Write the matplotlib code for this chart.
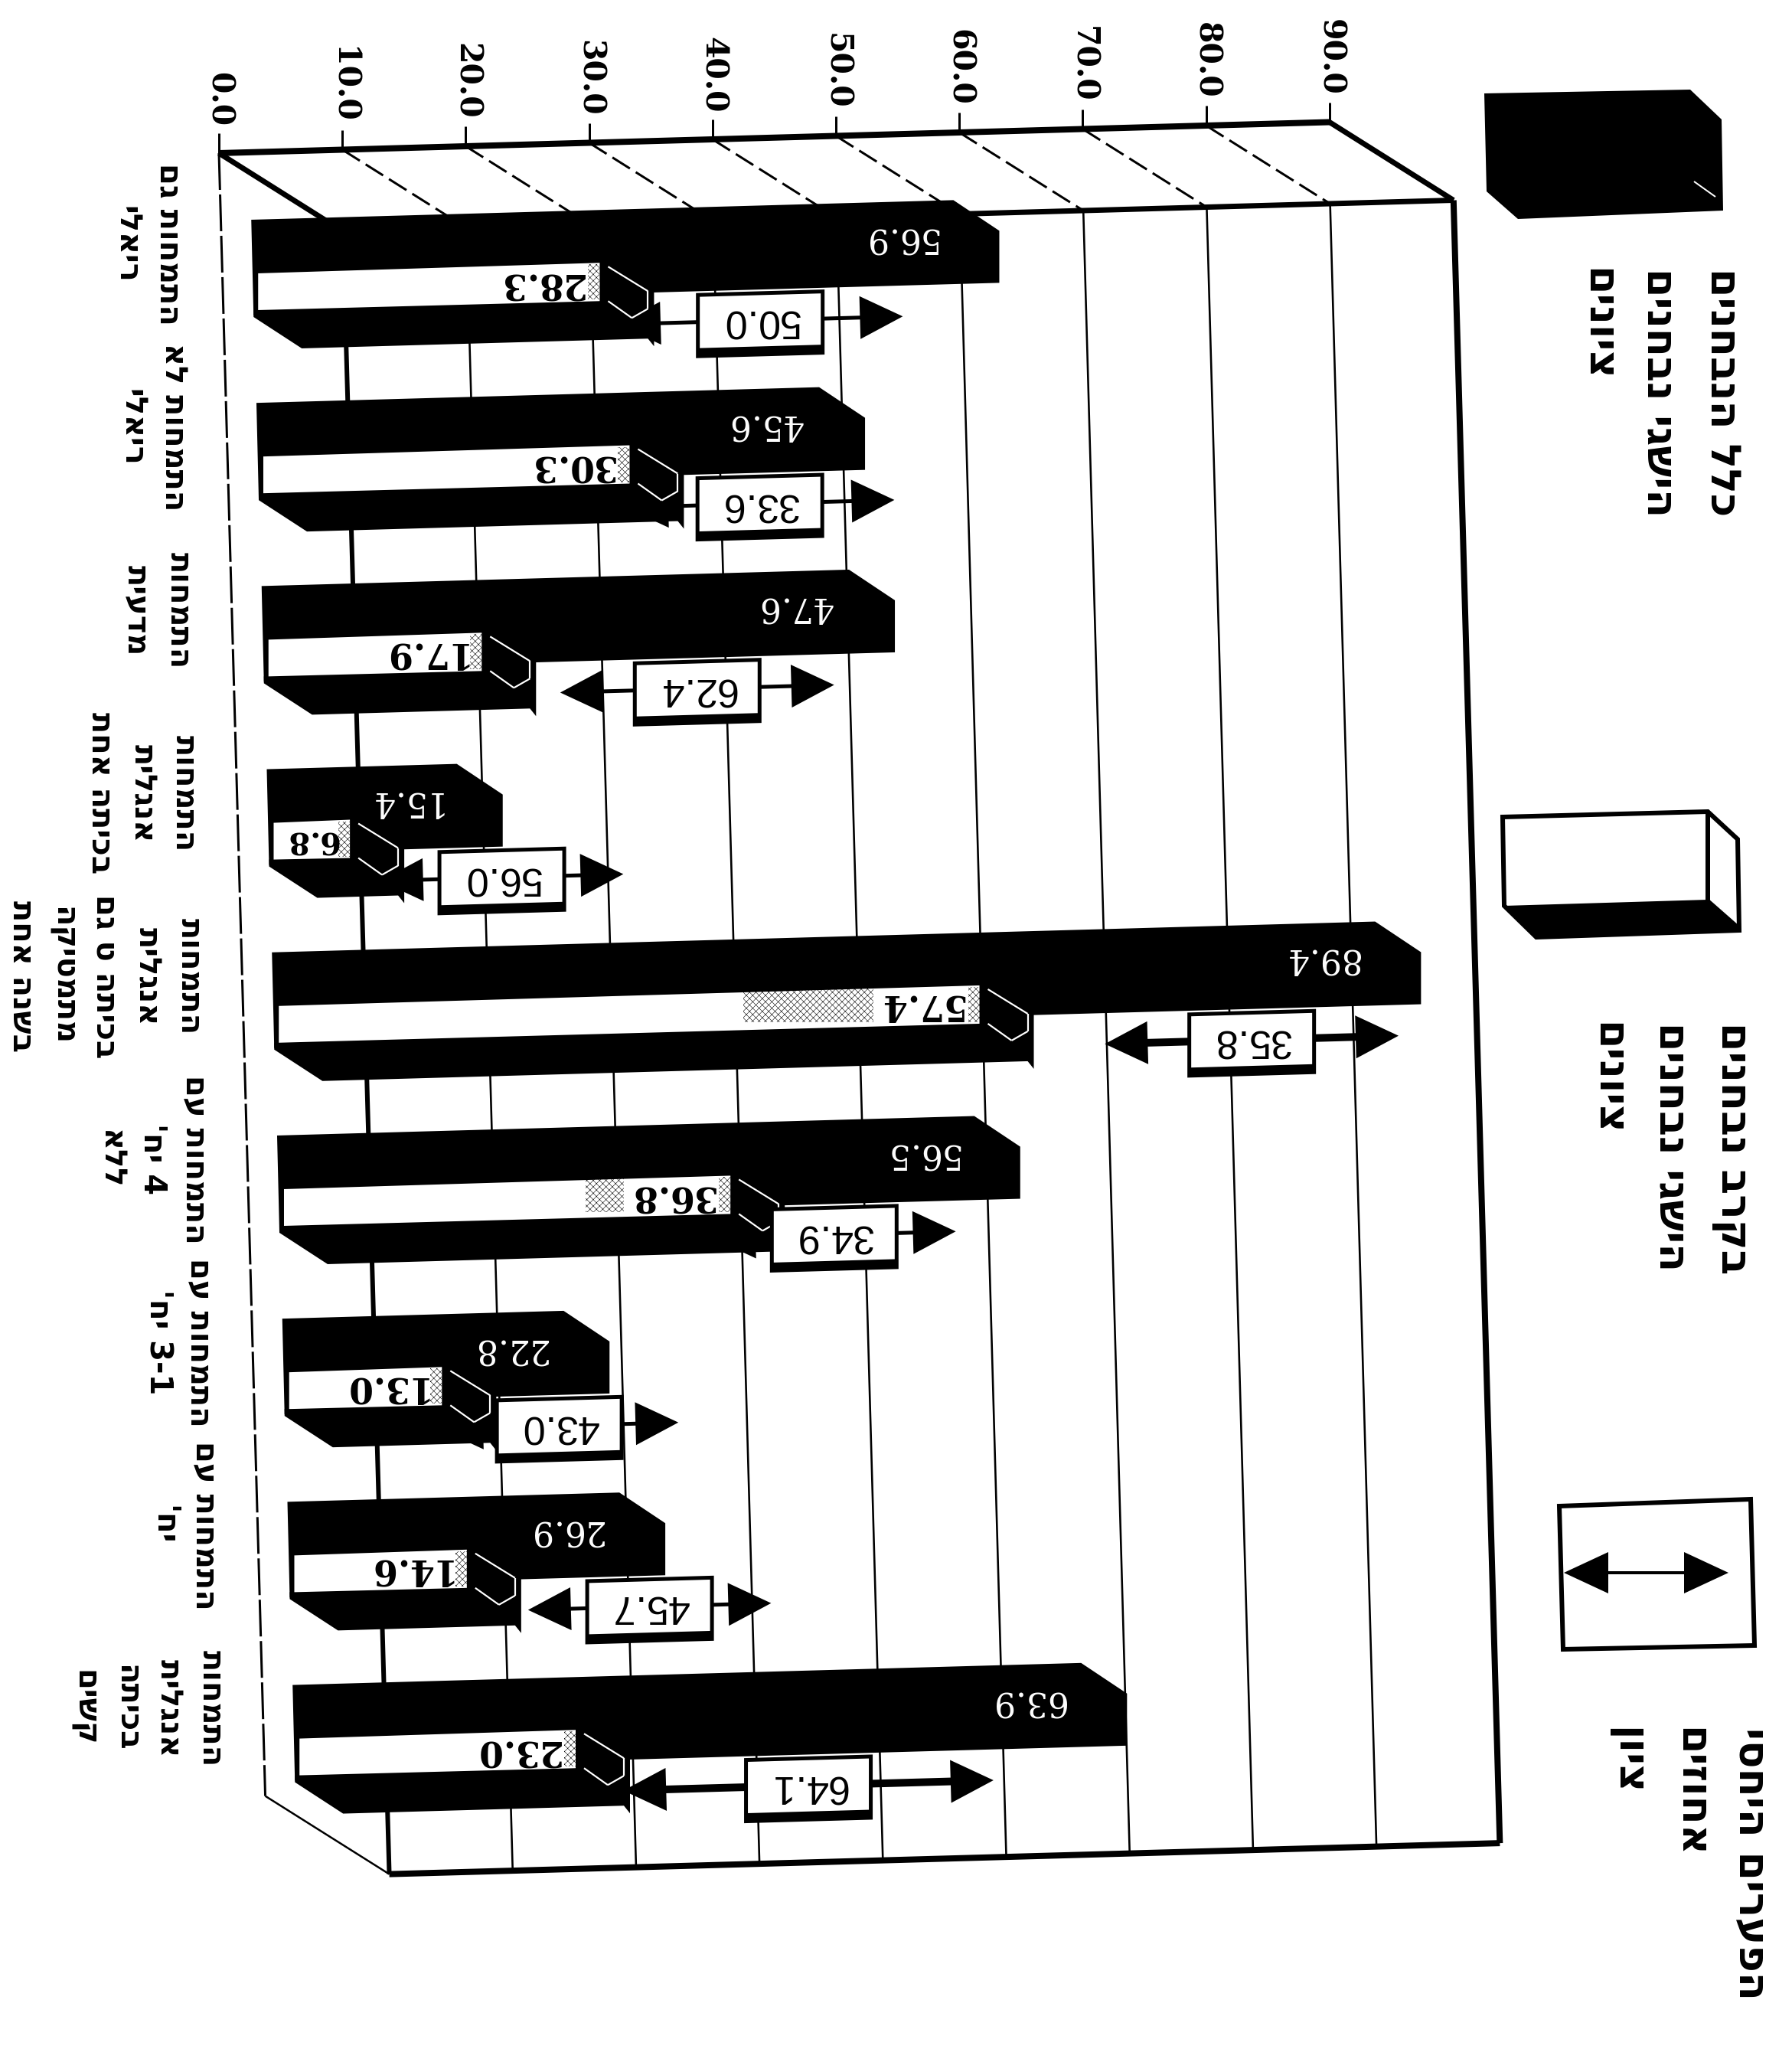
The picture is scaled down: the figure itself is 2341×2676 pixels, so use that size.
"""
Scanned 3D bar chart, lying on its side: mean score per track for two groups,
with the relative gap between them in the boxed double arrows.

All drawing goes through P()/L(), the oblique projection of (value, category, depth)
onto the page, on one full-figure axes in pixel units.
"""

import re

import matplotlib
matplotlib.use("Agg")          # file output only
import matplotlib.pyplot as plt

W, H = 2341, 2676

ticks = [0, 10, 20, 30, 40, 50, 60, 70, 80, 90]

categories = [
    ["התמחות גם", "ריאלי"],
    ["התמחות לא", "ריאלי"],
    ["התמחות", "מדעית"],
    ["התמחות", "אנגלית", "בכיתה אחת"],
    ["התמחות", "אנגלית", "בכיתה ט גם", "מתמטיקה", "בשנה אחת"],
    ["התמחות עם", "4 יח'", "ללא"],
    ["התמחות עם", "3-1 יח'"],
    ["התמחות עם", "יח'"],
    ["התמחות", "אנגלית", "בכיתה", "קשים"],
]
all_students = [56.9, 45.6, 47.6, 15.4, 89.4, 56.5, 22.8, 26.9, 63.9]
group_students = [28.3, 30.3, 17.9, 6.8, 57.4, 36.8, 13.0, 14.6, 23.0]
gap_pct = [50.0, 33.6, 62.4, 56.0, 35.8, 34.9, 43.0, 45.7, 64.1]
# where the gap arrows start and stop on the value scale
arrow_lo = [29.7, 29.9, 24.2, 9.2, 67.5, 35.3, 12.8, 19.5, 26.8]
arrow_hi = [52.8, 51.7, 46.4, 28.9, 91.3, 55.0, 32.1, 39.2, 56.8]

legend_texts = [
    ["כלל הנבחנים", "הישגי נבחנים", "ציונים"],
    ["בקרב נבחנים", "הישגי נבחנים", "ציונים"],
    ["הפערים היחסי", "אחוזים", "ציון"],
]

# projection, in page pixels
ORIGIN = (286, 200)
EX = (16.12, -0.45)      # per value unit
EY = (6.75, 239.2)       # per category slot
ED = (162, 102)          # full floor depth
N_SLOTS = 8.97
PX = 0.72                # points per pixel at dpi=100

HEB = ["DejaVu Sans"]
TICK_FONT = "DejaVu Serif"
BOX_FONT = "Liberation Sans"


def visual(text):
    """matplotlib has no bidi: flip Hebrew to visual order, digits stay as they are."""
    flipped = text[::-1]
    return re.sub(r"[0-9][0-9-]*", lambda m: m.group(0)[::-1], flipped)


def P(v, c, d=0.0):
    return (ORIGIN[0] + EX[0] * v + EY[0] * c + ED[0] * d,
            ORIGIN[1] + EX[1] * v + EY[1] * c + ED[1] * d)


def L(i, v, dx=0.0, s=0.0):
    """Point on bar group i: value v, then a pixel offset from the group's top edge."""
    x, y = P(v, i + 0.257, 0.25)
    return (x + dx, y + s)


def poly(ax, pts, z, fc="black", **kw):
    xs, ys = zip(*pts)
    ax.fill(xs, ys, facecolor=fc, edgecolor=kw.pop("ec", "none"), zorder=z,
            lw=kw.pop("lw", 0), **kw)


def line(ax, a, b, px, z=2, color="black", **kw):
    ax.plot([a[0], b[0]], [a[1], b[1]], color=color, lw=px * PX, zorder=z,
            solid_capstyle="butt", **kw)


def arrow(ax, a, b, px, z, head=56, half=28):
    """Double-headed arrow between two page points, heads laid along the line."""
    ux, uy = (b[0] - a[0]), (b[1] - a[1])
    n = (ux * ux + uy * uy) ** 0.5
    ux, uy = ux / n, uy / n
    line(ax, (a[0] + ux * 20, a[1] + uy * 20), (b[0] - ux * 20, b[1] - uy * 20), px, z=z)
    for tip, sign in ((a, 1), (b, -1)):
        bx, by = tip[0] + sign * ux * head, tip[1] + sign * uy * head
        poly(ax, [tip, (bx - uy * half, by + ux * half), (bx + uy * half, by - ux * half)], z)


def draw_frame(ax):
    for v in ticks:
        top, front = P(v, 0, 0), P(v, 0, 1)
        line(ax, top, (top[0], top[1] - 26), 3)
        ax.text(top[0], top[1] - 35, f"{v:.1f}", rotation=-90, ha="center", va="bottom",
                family=TICK_FONT, weight="bold", fontsize=41 * PX)
        if v > 0:
            line(ax, top, front, 3, z=1.5, linestyle=(0, (9, 3)))
        if v < 90:
            line(ax, front, P(v, N_SLOTS, 1), 6 if v == 0 else 2.6, z=1.5)
    line(ax, P(0, 0, 0), P(90, 0, 0), 8)
    line(ax, P(0, 0, 0), P(0, 0, 1), 7)
    line(ax, P(90, 0, 0), P(90, 0, 1), 7)
    line(ax, P(0, 0, 1), P(90, 0, 1), 7)
    line(ax, P(90, 0, 1), P(90, N_SLOTS, 1), 8)
    line(ax, P(0, N_SLOTS, 1), P(90, N_SLOTS, 1), 8)
    line(ax, P(0, 0, 0), P(0, N_SLOTS, 0), 3, linestyle=(0, (16, 2)))
    line(ax, P(0, N_SLOTS, 0), P(0, N_SLOTS, 1), 2.5)


def draw_group(ax, i):
    vb, vw = all_students[i], group_students[i]

    # gap arrow first: its left head tucks behind the bars
    lo, hi = L(i, arrow_lo[i], 0, 150), L(i, arrow_hi[i], 0, 150)
    arrow(ax, lo, hi, 10 if i in (4, 8) else 5, z=3)

    # black box
    poly(ax, [L(i, 0), L(i, vb), L(i, vb, 60, 40), L(i, vb, 60, 108),
              L(i, 0, 60, 108), L(i, 0, 3, 125)], 4)

    # second box: black underside and end, white front
    poly(ax, [L(i, 0, 3, 118), L(i, 0, 3, 127), L(i, 0, 66, 168), L(i, vw, 62, 168),
              L(i, vw, 70, 178), L(i, vw, 70, 90), L(i, vw, -1, 69)], 5)
    poly(ax, [L(i, 0, 9, 70), L(i, vw, -1, 69), L(i, vw, -1, 119), L(i, 0, 9, 118)], 6, fc="white")
    ends = [L(i, vw, 10, 74), L(i, vw, 62, 106), L(i, vw, 62, 129), L(i, vw, 41, 141), L(i, vw, 10, 119)]
    for a, b in zip(ends, ends[1:]):
        line(ax, a, b, 2.2, z=6, color="white")

    # speckle around the dark value: right against the end, and trailing off past it
    poly(ax, [L(i, vw, -16, 71), L(i, vw, -1, 71), L(i, vw, -1, 117), L(i, vw, -16, 117)],
         6.5, fc="none", ec="black", hatch="xxxx")
    fade = 170 if i == 4 else 50 if i == 5 else 0
    if fade:
        poly(ax, [L(i, vw, -140 - fade, 71), L(i, vw, -140, 71), L(i, vw, -140, 117), L(i, vw, -140 - fade, 117)],
             6.5, fc="none", ec="black", hatch="xxxx")

    bx, by = L(i, vb, -70, 49)
    ax.text(bx, by, f"{vb:.1f}", rotation=180, ha="center", va="center", color="white",
            family=TICK_FONT, fontsize=44 * PX, zorder=7)
    wx, wy = L(i, vw, -51 if vw < 10 else -78, 95)
    ax.text(wx, wy, f"{vw:.1f}", rotation=180, ha="center", va="center", color="black",
            family=TICK_FONT, weight="bold", fontsize=(40 if vw < 10 else 46) * PX, zorder=7)

    # boxed gap value, sitting on the arrow
    mid = (arrow_lo[i] + arrow_hi[i]) / 2
    half = 84 / EX[0]
    poly(ax, [L(i, mid - half, 0, 112), L(i, mid + half, 0, 112),
              L(i, mid + half, 0, 197), L(i, mid - half, 0, 197)], 8)
    inner = 79 / EX[0]
    poly(ax, [L(i, mid - inner, 0, 117), L(i, mid + inner, 0, 117),
              L(i, mid + inner, 0, 184), L(i, mid - inner, 0, 184)], 8.5, fc="white")
    tx, ty = L(i, mid, 0, 150)
    ax.text(tx, ty, f"{gap_pct[i]:.1f}", rotation=180, ha="center", va="center",
            family=BOX_FONT, fontsize=52 * PX, zorder=9)


def draw_category_labels(ax):
    for i, lines in enumerate(categories):
        x0, y0 = 220 + 6.9 * i, 319 + 239 * i
        for j, txt in enumerate(lines):
            ax.text(x0 - 55 * j, y0, visual(txt), rotation=-90, ha="center", va="center",
                    family=HEB, weight="bold", fontsize=40 * PX)


def draw_legend(ax):
    # black box
    poly(ax, [(1939, 122), (2208, 117), (2249, 156), (2251, 275), (1983, 286), (1942, 250)], 3)
    line(ax, (2213, 237), (2241, 257), 2, z=4, color="white")

    # white box with black underside
    poly(ax, [(1963, 1067), (2231, 1060), (2270, 1096), (2272, 1215), (2007, 1224), (1965, 1183)],
         3, fc="white", ec="black", lw=6 * PX)
    line(ax, (2231, 1060), (2231, 1177), 6, z=4)
    line(ax, (2231, 1177), (2272, 1213), 6, z=4)
    poly(ax, [(1965, 1183), (2231, 1175), (2272, 1215), (2007, 1224)], 4)

    # gap arrow
    poly(ax, [(2037, 1967), (2287, 1958), (2292, 2149), (2042, 2154)], 3, fc="white",
         ec="black", lw=6 * PX)
    arrow(ax, (2043, 2054), (2258, 2054), 4, z=4, head=58, half=27)

    blocks = [
        (350, [2250, 2168, 2087], legend_texts[0]),
        (1335, [2262, 2183, 2100], legend_texts[1]),
        (2256, [2288, 2208, 2124], legend_texts[2]),
    ]
    for y0, xs, lines in blocks:
        for x, txt in zip(xs, lines):
            ax.text(x, y0, visual(txt), rotation=-90, ha="center", va="top",
                    family=HEB, weight="bold", fontsize=54 * PX)


def main():
    plt.rcParams["hatch.linewidth"] = 0.4
    fig = plt.figure(figsize=(W / 100, H / 100), dpi=100, facecolor="white")
    ax = fig.add_axes([0, 0, 1, 1])
    ax.set_xlim(0, W)
    ax.set_ylim(H, 0)
    ax.axis("off")

    draw_frame(ax)
    for i in range(len(categories)):
        draw_group(ax, i)
    draw_category_labels(ax)
    draw_legend(ax)

    fig.savefig("out.png", dpi=100)
    plt.close(fig)


if __name__ == "__main__":
    main()
